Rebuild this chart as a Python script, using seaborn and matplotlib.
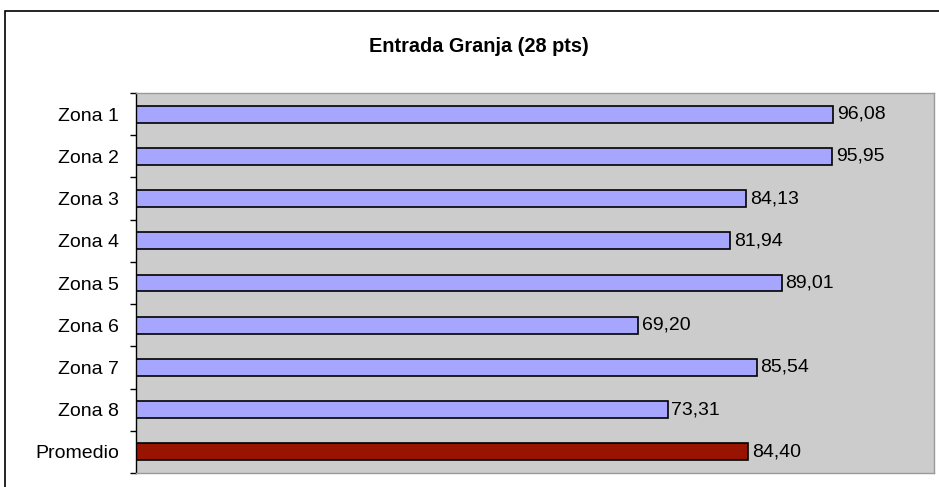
import matplotlib
matplotlib.use("Agg")
import matplotlib.pyplot as plt
import seaborn as sns
import pandas as pd
import numpy as np
from matplotlib.patches import Rectangle

zonas = ["Zona 1", "Zona 2", "Zona 3", "Zona 4", "Zona 5", "Zona 6", "Zona 7", "Zona 8", "Promedio"]
valores = [96.08, 95.95, 84.13, 81.94, 89.01, 69.20, 85.54, 73.31, 84.40]
tipo = ["zona"] * 8 + ["promedio"]

df = pd.DataFrame({"Zona": zonas, "Valor": valores, "Tipo": tipo})

sns.set_style("white")
plt.rcParams["font.family"] = ["Liberation Sans", "DejaVu Sans"]
plt.rcParams["text.color"] = "black"
plt.rcParams["ytick.color"] = "black"
plt.rcParams["ytick.labelcolor"] = "black"

fig = plt.figure(figsize=(9.39, 4.87), dpi=100)
ax = fig.add_axes([136 / 939, 14 / 487, 798 / 939, 380 / 487])

sns.barplot(data=df, y="Zona", x="Valor", hue="Tipo", orient="h",
            palette={"zona": "#a6a6ff", "promedio": "#991400"}, saturation=1,
            width=0.4, edgecolor="black", linewidth=1.2, dodge=False,
            legend=False, ax=ax)

ax.set_facecolor("#cccccc")
ax.set_xlim(0, 110)
ax.set_ylim(len(zonas) - 0.5, -0.5)
ax.set_xlabel("")
ax.set_ylabel("")
ax.set_xticks([])

# etiquetas de valor
for i, v in enumerate(valores):
    ax.text(v + 0.5, i, f"{v:.2f}".replace(".", ","), va="center", ha="left", fontsize=14)

ax.tick_params(axis="y", which="major", left=False, length=0, labelsize=14, pad=12)
ax.set_yticks(np.arange(-0.5, len(zonas), 1), minor=True)
ax.tick_params(axis="y", which="minor", left=True, length=4, width=1, color="black", direction="out")

for s in ["top", "right", "bottom"]:
    ax.spines[s].set_color("#999999")
    ax.spines[s].set_linewidth(1)
ax.spines["left"].set_color("black")
ax.spines["left"].set_linewidth(1)

fig.text(0.5 + 9 / 939, 1 - 47 / 487, "Entrada Granja (28 pts)", ha="center", va="center",
         fontsize=14.3, fontweight="bold")

# marco exterior
fig.patches.append(Rectangle((5 / 939, -0.1), 1.2, 1 - 11 / 487 + 0.1, transform=fig.transFigure,
                             fill=False, edgecolor="black", linewidth=1.2))

fig.savefig("out.png", dpi=100)
